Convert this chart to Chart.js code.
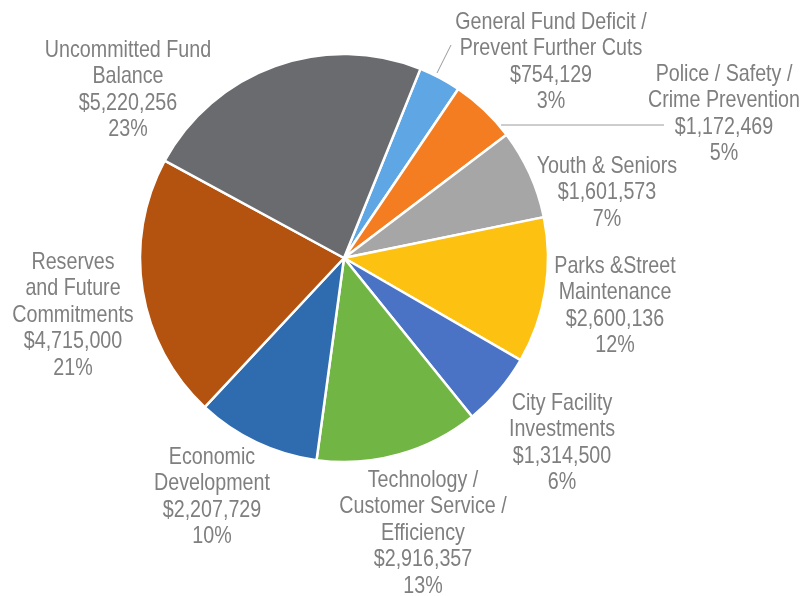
<!DOCTYPE html>
<html>
<head>
<meta charset="utf-8">
<script src="https://cdn.jsdelivr.net/npm/chart.js@4.4.1/dist/chart.umd.min.js"></script>
<style>
  html, body { margin: 0; padding: 0; background: #fff; }
  #wrap { width: 802px; height: 596px; }
</style>
</head>
<body>
<div id="wrap"><canvas id="fund-chart" width="802" height="596"></canvas></div>
<script>
// Fund allocation categories (clockwise from the top)
const categories = [
  ['General Fund Deficit /', 'Prevent Further Cuts'],
  ['Police / Safety /', 'Crime Prevention'],
  ['Youth & Seniors'],
  ['Parks &Street', 'Maintenance'],
  ['City Facility', 'Investments'],
  ['Technology /', 'Customer Service /', 'Efficiency'],
  ['Economic', 'Development'],
  ['Reserves', 'and Future', 'Commitments'],
  ['Uncommitted Fund', 'Balance']
];
const amounts = [754129, 1172469, 1601573, 2600136, 1314500, 2916357, 2207729, 4715000, 5220256];
const sliceColors = ['#5ea6e4', '#f47d22', '#a6a6a6', '#fdc112', '#4a73c6', '#71b544', '#2f6baf', '#b4520f', '#6a6b6f'];

// Where each label block sits: centre x, first line y
const labelLayout = [
  [551, 22], [724, 74], [607, 166], [615, 266], [562, 403],
  [423, 480], [212, 457], [73, 262], [128, 50]
];
const lineGap = 26.5;

const total = amounts.reduce((a, b) => a + b, 0);

function formatMoney(v) {
  return '$' + v.toLocaleString('en-US');
}

// Labels and leader lines drawn after the pie
const sliceLabels = {
  id: 'sliceLabels',
  afterDraw(chart) {
    const ctx = chart.ctx;
    ctx.save();

    // leader lines
    ctx.strokeStyle = '#9a9a9a';
    ctx.lineWidth = 1;
    ctx.beginPath();
    ctx.moveTo(437, 73);
    ctx.lineTo(451, 45);
    ctx.moveTo(501, 125);
    ctx.lineTo(664, 125);
    ctx.stroke();

    ctx.fillStyle = '#7f7f7f';
    ctx.font = '24px "Liberation Sans", Arial, sans-serif';
    ctx.textAlign = 'center';
    ctx.textBaseline = 'middle';
    categories.forEach((name, i) => {
      const pct = Math.round(amounts[i] / total * 100) + '%';
      const lines = name.concat([formatMoney(amounts[i]), pct]);
      const [cx, cy] = labelLayout[i];
      lines.forEach((t, k) => {
        ctx.save();
        ctx.translate(cx, cy + k * lineGap);
        ctx.scale(0.82, 1);
        ctx.fillText(t, 0, 0);
        ctx.restore();
      });
    });
    ctx.restore();
  }
};

new Chart(document.getElementById('fund-chart'), {
  type: 'pie',
  data: {
    labels: categories.map(c => c.join(' ')),
    datasets: [{
      data: amounts,
      backgroundColor: sliceColors,
      borderColor: '#ffffff',
      borderWidth: 2.5
    }]
  },
  options: {
    responsive: false,
    animation: false,
    rotation: 22,
    radius: 204,
    layout: { padding: { left: 0, right: 114, top: 0, bottom: 80 } },
    plugins: {
      legend: { display: false },
      tooltip: { enabled: false }
    }
  },
  plugins: [sliceLabels]
});
</script>
</body>
</html>
